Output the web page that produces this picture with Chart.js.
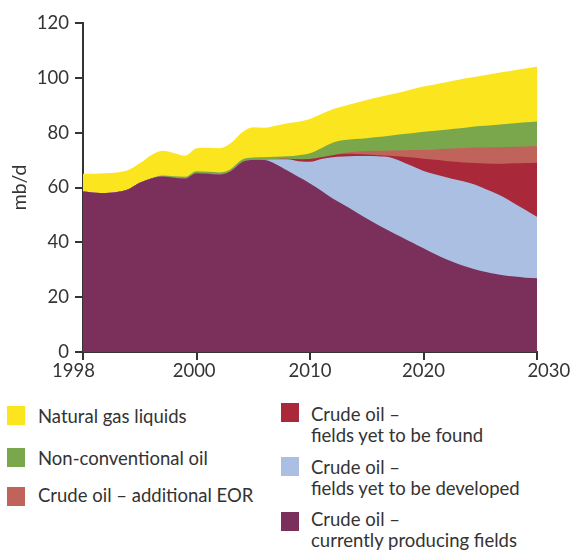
<!DOCTYPE html>
<html>
<head>
<meta charset="utf-8">
<script src="https://cdn.jsdelivr.net/npm/chart.js@4.4.1/dist/chart.umd.min.js"></script>
<style>
  html, body { margin: 0; padding: 0; background: #fff; }
  #wrap { position: relative; width: 574px; height: 552px; font-family: Lato, sans-serif; color: #333; }
  #chart { position: absolute; left: 0; top: 0; }
  .key { position: absolute; font-size: 18.5px; line-height: 21px; white-space: nowrap; }
  .sw { position: absolute; width: 18px; height: 19px; }
</style>
</head>
<body>
<div id="wrap">
  <canvas id="chart" width="574" height="395"></canvas>
  <div id="legend"></div>
</div>
<script>
// years along the x axis (the first tick is printed as "1998" in the original)
const years = [1990, 1991, 1992, 1993, 1994, 1995, 1996, 1997, 1998, 1999,
  2000, 2001, 2002, 2003, 2004, 2005, 2006, 2007, 2008, 2009,
  2010, 2011, 2012, 2013, 2014, 2015, 2016, 2017, 2018, 2019,
  2020, 2021, 2022, 2023, 2024, 2025, 2026, 2027, 2028, 2029, 2030];

// mb/d, each layer's own thickness (stacked bottom to top)
const currentlyProducing = [58.5, 58.1, 58.0, 58.4, 59.4, 61.7, 63.3, 64.0, 63.6, 63.3,
  65.2, 65.0, 64.7, 65.9, 69.2, 70.0, 70.0, 68.5, 66.2, 63.8,
  61.5, 58.8, 56.0, 53.6, 51.2, 48.7, 46.3, 44.1, 42.0, 39.9,
  37.8, 35.7, 33.8, 32.2, 30.8, 29.6, 28.7, 28.0, 27.5, 27.1, 26.9];
const yetToBeDeveloped = [0, 0, 0, 0, 0, 0, 0, 0, 0, 0,
  0, 0, 0, 0, 0, 0, 0.2, 1.8, 4.1, 5.8,
  7.9, 11.6, 15.0, 17.7, 20.3, 22.8, 25.1, 26.9, 27.6, 27.9,
  28.2, 29.1, 29.9, 30.5, 30.9, 30.7, 29.8, 28.6, 26.7, 24.7, 22.4];
const yetToBeFound = [0, 0, 0, 0, 0, 0, 0, 0, 0, 0,
  0, 0, 0, 0, 0, 0, 0, 0.1, 0.2, 0.7,
  1.0, 0.6, 0.8, 1.0, 0.7, 0.5, 0.4, 0.6, 1.7, 3.1,
  4.5, 5.3, 6.0, 6.6, 7.3, 8.5, 10.2, 12.1, 14.6, 17.1, 19.7];
const additionalEOR = [0, 0, 0, 0, 0, 0, 0, 0, 0, 0,
  0, 0, 0, 0, 0, 0, 0, 0, 0, 0,
  0, 0, 0, 0.3, 0.8, 1.3, 1.6, 1.9, 2.3, 2.8,
  3.3, 3.8, 4.4, 5.0, 5.5, 5.8, 6.0, 6.1, 6.1, 6.1, 6.1];
const nonConventional = [0, 0, 0, 0, 0, 0, 0, 0.4, 0.5, 0.6,
  0.7, 0.7, 0.8, 0.8, 0.9, 0.9, 0.8, 0.8, 0.9, 1.5,
  2.1, 3.3, 4.5, 4.7, 4.7, 4.7, 5.0, 5.4, 5.8, 6.1,
  6.5, 6.8, 7.0, 7.2, 7.5, 7.8, 8.0, 8.3, 8.5, 8.8, 9.0];
const naturalGasLiquids = [6.5, 6.9, 7.2, 7.1, 7.0, 7.1, 8.5, 9.0, 8.5, 7.7,
  8.4, 8.8, 8.8, 9.4, 10.0, 11.1, 10.8, 11.3, 12.0, 12.2,
  12.5, 12.5, 12.2, 12.4, 13.1, 13.9, 14.5, 14.9, 15.3, 16.0,
  16.5, 16.9, 17.3, 17.7, 18.0, 18.3, 18.7, 19.0, 19.4, 19.6, 19.9];

const xTickValues = [1990, 2000, 2010, 2020, 2030];
// the end labels sit a little off their ticks in the original, hence the padding spaces
const xTickLabels = ['1998    ', '2000 ', '2010', '2020', '     2030'];

const series = [
  { name: 'Crude oil –\ncurrently producing fields', data: currentlyProducing, color: '#7b2f5b' },
  { name: 'Crude oil –\nfields yet to be developed', data: yetToBeDeveloped, color: '#aabfe2' },
  { name: 'Crude oil –\nfields yet to be found', data: yetToBeFound, color: '#a92839' },
  { name: 'Crude oil – additional EOR', data: additionalEOR, color: '#c0645b' },
  { name: 'Non-conventional oil', data: nonConventional, color: '#7ba74c' },
  { name: 'Natural gas liquids', data: naturalGasLiquids, color: '#fbe51e' },
];

const ink = '#343434';
const tickFont = { family: 'Lato, sans-serif', size: 18.5 };

new Chart(document.getElementById('chart'), {
  type: 'line',
  data: {
    datasets: series.map(s => ({
      label: s.name,
      data: s.data.map((v, i) => ({ x: years[i], y: v })),
      backgroundColor: s.color,
      borderColor: s.color,
      borderWidth: 0,
      pointRadius: 0,
      // every layer fills down to zero; bottom layers are painted last and cover the rest
      fill: 'origin',
      cubicInterpolationMode: 'monotone',
    })),
  },
  options: {
    responsive: false,
    animation: false,
    devicePixelRatio: 1,
    layout: { padding: { top: 23, right: 37, left: 0, bottom: 0 } },
    plugins: { legend: { display: false }, tooltip: { enabled: false } },
    scales: {
      x: {
        type: 'linear',
        min: 1990,
        max: 2030,
        afterBuildTicks: scale => { scale.ticks = xTickValues.map(v => ({ value: v })); },
        afterFit: scale => { scale.height = 43; },
        ticks: {
          color: ink,
          font: tickFont,
          padding: 0,
          maxRotation: 0,
          callback: v => xTickLabels[xTickValues.indexOf(v)],
        },
        grid: { drawOnChartArea: false, tickLength: 8, color: ink, lineWidth: 2 },
        border: { color: ink, width: 2 },
      },
      y: {
        stacked: true,
        min: 0,
        max: 120,
        afterFit: scale => { scale.width = 83; },
        ticks: { stepSize: 20, color: ink, font: tickFont, padding: 6 },
        grid: { drawOnChartArea: false, tickLength: 8, color: ink, lineWidth: 2 },
        border: { color: ink, width: 2 },
        title: {
          display: true,
          text: 'mb/d',
          color: ink,
          font: { family: 'Lato, sans-serif', size: 19.5 },
          padding: { top: 8, bottom: 0 },
        },
      },
    },
  },
});

// legend laid out like the original: two columns under the plot
const legendSpots = [
  { i: 5, sx: 7, sy: 406, tx: 38, ty: 406 },
  { i: 4, sx: 7, sy: 448, tx: 38, ty: 448 },
  { i: 3, sx: 7, sy: 487, tx: 38, ty: 485 },
  { i: 2, sx: 281, sy: 403, tx: 311, ty: 404 },
  { i: 1, sx: 281, sy: 457, tx: 311, ty: 457 },
  { i: 0, sx: 281, sy: 512, tx: 311, ty: 509 },
];
const legend = document.getElementById('legend');
legendSpots.forEach(p => {
  const s = series[p.i];
  const sw = document.createElement('div');
  sw.className = 'sw';
  sw.style.left = p.sx + 'px';
  sw.style.top = p.sy + 'px';
  sw.style.background = s.color;
  legend.appendChild(sw);
  const t = document.createElement('div');
  t.className = 'key';
  t.style.left = p.tx + 'px';
  t.style.top = p.ty + 'px';
  t.innerHTML = s.name.split('\n').join('<br>');
  legend.appendChild(t);
});
</script>
</body>
</html>
